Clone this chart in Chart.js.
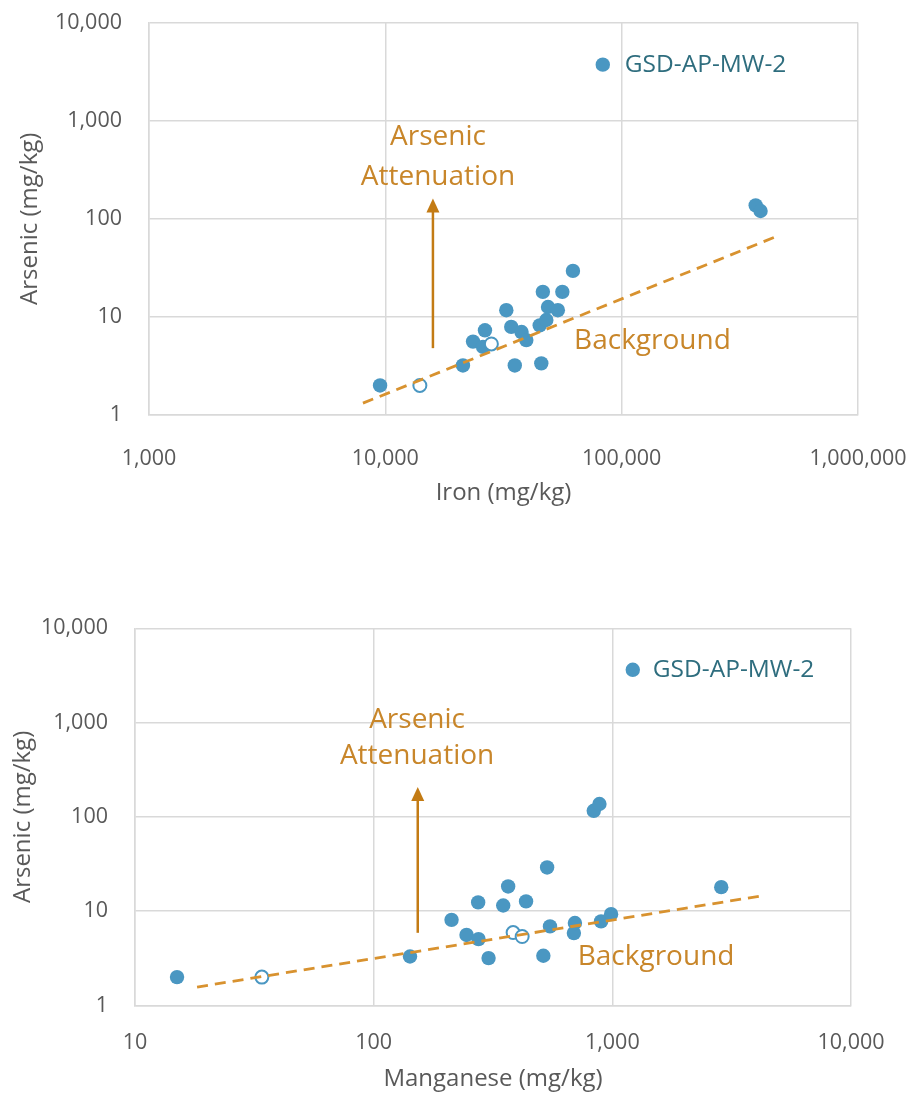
<!DOCTYPE html>
<html>
<head>
<meta charset="utf-8">
<script src="https://cdn.jsdelivr.net/npm/chart.js@4.4.1/dist/chart.umd.min.js"></script>
<style>
  html, body { margin: 0; padding: 0; background: #fff; }
  #wrap { position: relative; width: 914px; height: 1095px; }
  #ironChart { position: absolute; left: 0; top: 0; }
  #mnChart { position: absolute; left: 0; top: 600px; }
</style>
</head>
<body>
<div id="wrap">
  <canvas id="ironChart" width="914" height="520"></canvas>
  <canvas id="mnChart" width="914" height="495"></canvas>
</div>
<script>
// Tick values
const arsenicTicks = [1, 10, 100, 1000, 10000];
const ironTicks = [1000, 10000, 100000, 1000000];
const mnTicks = [10, 100, 1000, 10000];

// Iron vs arsenic (mg/kg)
const ironFe = [9500, 21300, 23500, 25900, 26400, 32500, 34100, 35300, 37700, 39500, 45700, 45000, 48000, 46400, 48800, 53700, 56100, 62200, 369000, 387000];
const ironAs = [2.0, 3.2, 5.6, 4.95, 7.3, 11.7, 7.9, 3.2, 7.0, 5.8, 3.36, 8.2, 9.3, 18, 12.6, 11.7, 18, 29.4, 137, 120];
const ironFeOpen = [14000, 28100];
const ironAsOpen = [2.0, 5.3];
const ironOutlierFe = [83200];
const ironOutlierAs = [3720];
const ironTrendFe = [8040, 443000];
const ironTrendAs = [1.32, 64.7];

// Manganese vs arsenic (mg/kg)
const mnMn = [15, 142, 212, 245, 275, 274, 303, 349, 366, 435, 514, 533, 548, 690, 697, 897, 988, 836, 883, 2860];
const mnAs = [2.0, 3.31, 8.1, 5.6, 5.06, 12.4, 3.18, 11.5, 18.3, 12.7, 3.37, 29.1, 6.9, 5.86, 7.5, 7.8, 9.3, 116, 137, 18.0];
const mnMnOpen = [34, 384, 419];
const mnAsOpen = [2.0, 5.94, 5.39];
const mnOutlierMn = [1218];
const mnOutlierAs = [3630];
const mnTrendMn = [18.2, 4330];
const mnTrendAs = [1.57, 14.7];

const blue = '#4A97C2';
const orange = '#C8862A';
const arrowOrange = '#C37B14';
const trendOrange = '#D8922F';
const gridGray = '#D9D9D9';
const textGray = '#595959';
const FONT = "'Open Sans', 'Noto Sans', sans-serif";

function toPoints(xs, ys) {
  return xs.map((v, i) => ({ x: v, y: ys[i] }));
}

// arrow, annotation texts and outlier label
const notesPlugin = {
  id: 'notes',
  afterDatasetsDraw(chart, args, opts) {
    const { ctx, scales: { x, y } } = chart;
    ctx.save();
    const ax = x.getPixelForValue(opts.arrow.x);
    const ay0 = y.getPixelForValue(opts.arrow.from);
    const ay1 = y.getPixelForValue(opts.arrow.to);
    ctx.strokeStyle = arrowOrange;
    ctx.fillStyle = arrowOrange;
    ctx.lineWidth = 2.5;
    ctx.beginPath();
    ctx.moveTo(ax, ay0);
    ctx.lineTo(ax, ay1 + 10);
    ctx.stroke();
    ctx.beginPath();
    ctx.moveTo(ax, ay1);
    ctx.lineTo(ax - 6.5, ay1 + 14);
    ctx.lineTo(ax + 6.5, ay1 + 14);
    ctx.closePath();
    ctx.fill();

    ctx.textBaseline = 'middle';
    opts.labels.forEach(l => {
      ctx.font = l.size + 'px ' + FONT;
      ctx.fillStyle = l.color;
      ctx.textAlign = l.align || 'center';
      const px = x.getPixelForValue(l.x) + (l.dx || 0);
      const py = y.getPixelForValue(l.y);
      ctx.fillText(l.text, px, py);
    });
    ctx.restore();
  }
};

// no extra room for overhanging tick labels, chart area is set by layout padding
function noOverhang(s) {
  s.paddingTop = 0;
  s.paddingBottom = 0;
  s.paddingLeft = 0;
  s.paddingRight = 0;
}

function makeChart(id, c) {
  return new Chart(document.getElementById(id), {
    type: 'scatter',
    data: {
      datasets: [
        {
          data: toPoints(c.trendX, c.trendY),
          showLine: true,
          borderColor: trendOrange,
          borderWidth: 2.8,
          borderDash: [11, 7],
          pointRadius: 0,
          fill: false
        },
        {
          data: toPoints(c.openX, c.openY),
          backgroundColor: '#ffffff',
          borderColor: blue,
          borderWidth: 2,
          pointRadius: 6.5
        },
        {
          data: toPoints(c.x.concat(c.outX), c.y.concat(c.outY)),
          backgroundColor: blue,
          borderColor: blue,
          borderWidth: 0,
          pointRadius: 7.2
        }
      ]
    },
    options: {
      responsive: false,
      animation: false,
      layout: { padding: c.padding },
      plugins: {
        legend: { display: false },
        tooltip: { enabled: false },
        notes: {
          arrow: c.arrow,
          labels: [
            { text: 'Arsenic', x: c.noteX, y: c.noteY1, size: 28, color: orange },
            { text: 'Attenuation', x: c.noteX, y: c.noteY2, size: 28, color: orange },
            { text: 'Background', x: c.bgX, y: c.bgY, size: 28, color: orange },
            { text: 'GSD-AP-MW-2', x: c.outX[0], y: c.outY[0], dx: c.outDx, size: 24.5, color: '#2E6D7E', align: 'left' }
          ]
        }
      },
      scales: {
        x: {
          type: 'logarithmic',
          min: c.xTicks[0],
          max: c.xTicks[c.xTicks.length - 1],
          afterBuildTicks: s => { s.ticks = c.xTicks.map(v => ({ value: v })); },
          afterFit: s => { s.height = c.xAxisH; noOverhang(s); },
          grid: { color: gridGray, lineWidth: 1.5, drawTicks: false, tickLength: 0 },
          border: { color: gridGray, width: 1.5 },
          ticks: {
            padding: c.xTickPad,
            maxRotation: 0,
            autoSkip: false,
            color: textGray,
            font: { family: FONT, size: 21.5 },
            callback: v => Number(v).toLocaleString('en-US')
          },
          title: {
            display: true,
            text: c.xTitle,
            color: textGray,
            font: { family: FONT, size: 24 },
            padding: { top: 0, bottom: c.xTitlePad }
          }
        },
        y: {
          type: 'logarithmic',
          min: arsenicTicks[0],
          max: arsenicTicks[arsenicTicks.length - 1],
          afterBuildTicks: s => { s.ticks = arsenicTicks.map(v => ({ value: v })); },
          afterFit: s => { s.width = c.yAxisW; noOverhang(s); },
          grid: { color: gridGray, lineWidth: 1.5, drawTicks: false, tickLength: 0 },
          border: { color: gridGray, width: 1.5 },
          ticks: {
            padding: 27,
            autoSkip: false,
            color: textGray,
            font: { family: FONT, size: 21.5 },
            callback: v => Number(v).toLocaleString('en-US')
          },
          title: {
            display: true,
            text: 'Arsenic (mg/kg)',
            color: textGray,
            font: { family: FONT, size: 24 },
            padding: { top: c.yTitlePad, bottom: 0 }
          }
        }
      }
    },
    plugins: [notesPlugin]
  });
}

const ironChart = makeChart('ironChart', {
  x: ironFe, y: ironAs,
  openX: ironFeOpen, openY: ironAsOpen,
  outX: ironOutlierFe, outY: ironOutlierAs, outDx: 22,
  trendX: ironTrendFe, trendY: ironTrendAs,
  xTicks: ironTicks,
  xTitle: 'Iron (mg/kg)',
  arrow: { x: 15900, from: 4.8, to: 161 },
  noteX: 16700, noteY1: 673, noteY2: 264,
  bgX: 135000, bgY: 5.66,
  padding: { top: 22.5, right: 56, bottom: 0, left: 0 },
  yAxisW: 149, xAxisH: 105,
  xTickPad: 31, xTitlePad: 12, yTitlePad: 16
});

const mnChart = makeChart('mnChart', {
  x: mnMn, y: mnAs,
  openX: mnMnOpen, openY: mnAsOpen,
  outX: mnOutlierMn, outY: mnOutlierAs, outDx: 20,
  trendX: mnTrendMn, trendY: mnTrendAs,
  xTicks: mnTicks,
  xTitle: 'Manganese (mg/kg)',
  arrow: { x: 153, from: 5.9, to: 208 },
  noteX: 152, noteY1: 1070, noteY2: 437,
  bgX: 1525, bgY: 3.28,
  padding: { top: 28.3, right: 63, bottom: 0, left: 0 },
  yAxisW: 135, xAxisH: 89.5,
  xTickPad: 24, xTitlePad: 1, yTitlePad: 9
});
</script>
</body>
</html>
